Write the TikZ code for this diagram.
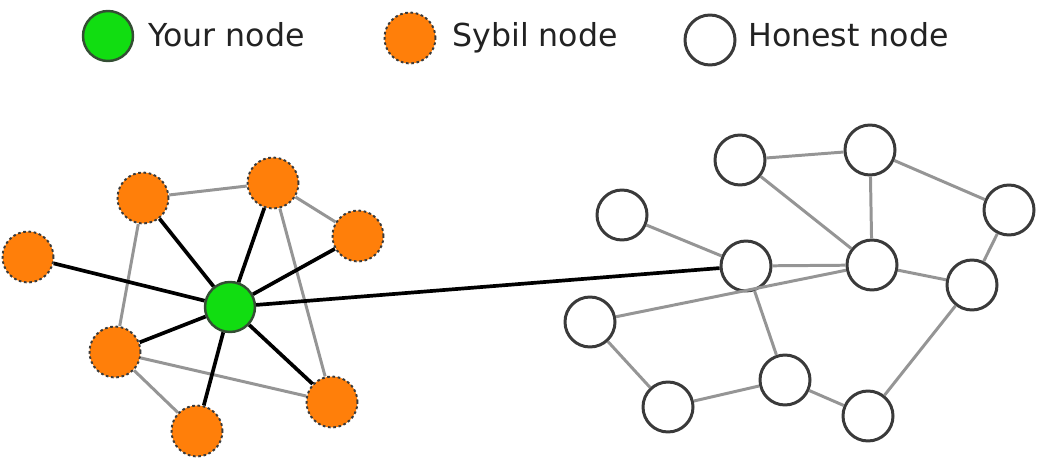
\documentclass[tikz,border=0pt]{standalone}
\usepackage{fontspec}
\setmainfont{DejaVu Sans}
\usepackage{xcolor}
\usepackage{tikz}
\usetikzlibrary{positioning}
\definecolor{greenyou}{HTML}{11DD11}
\definecolor{orangesybil}{HTML}{FF7F0A}
\definecolor{edgedark}{HTML}{3A3A3A}
\definecolor{graylink}{HTML}{959595}
\definecolor{textdark}{HTML}{222222}
\tikzset{
  yournode/.style={circle,fill=greenyou,draw=edgedark!90!green,line width=1.4pt,minimum size=1.0cm,inner sep=0pt},
  sybil/.style={circle,fill=orangesybil,draw=edgedark,line width=1.1pt,dash pattern=on 1.5pt off 1.5pt,minimum size=1.02cm,inner sep=0pt},
  honest/.style={circle,fill=white,draw=edgedark,line width=1.7pt,minimum size=1.0cm,inner sep=0pt},
  trust/.style={black,line width=2.1pt},
  link/.style={graylink,line width=1.7pt},
  legendtext/.style={anchor=base west,inner sep=0pt,text=textdark,font=\fontsize{18}{20}\selectfont}
}

\begin{document}
\begin{tikzpicture}[x=0.02cm,y=-0.02cm]
  \useasboundingbox (0,0) rectangle (1041,476);
  % legend
  \node[yournode] (lg) at (108,36) {};
  \node[legendtext] (lgt) at (148,47) {Your node};
  \node[sybil] (ls) at (410,38) {};
  \node[legendtext] (lst) at (452,47) {Sybil node};
  \node[honest] (lh) at (710,40) {};
  \node[legendtext] (lht) at (748,47) {Honest node};
  % sybil region
  \node[yournode] (me) at (230,307) {};
  \node[sybil] (s1) at (143,198) {};
  \node[sybil] (s2) at (273,183) {};
  \node[sybil] (s3) at (358,236) {};
  \node[sybil] (s4) at (28,257) {};
  \node[sybil] (s5) at (115,352) {};
  \node[sybil] (s6) at (197,431) {};
  \node[sybil] (s7) at (332,402) {};
  % honest region
  \node[honest] (h1) at (740,160) {};
  \node[honest] (h2) at (870,150) {};
  \node[honest] (h3) at (1009,210) {};
  \node[honest] (h4) at (622,215) {};
  \node[honest] (h5) at (746,266) {};
  \node[honest] (h6) at (872,265) {};
  \node[honest] (h7) at (972,285) {};
  \node[honest] (h8) at (590,322) {};
  \node[honest] (h9) at (785,380) {};
  \node[honest] (h10) at (668,407) {};
  \node[honest] (h11) at (868,416) {};
  % links among sybils
  \draw[link] (s1)--(s2) (s2)--(s3) (s1)--(s5) (s2)--(s7) (s5)--(s6) (s5)--(s7);
  % links among honest nodes
  \draw[link] (h1)--(h2) (h1)--(h6) (h2)--(h6) (h2)--(h3) (h3)--(h7)
    (h4)--(h5) (h5)--(h6) (h6)--(h7) (h8)--(h6) (h5)--(h9)
    (h8)--(h10) (h10)--(h9) (h9)--(h11) (h11)--(h7);
  % edges of your node
  \foreach \s in {s1,s2,s3,s4,s5,s6,s7}
    \draw[trust] (me)--(\s);
  \draw[trust] (me)--(h5);
\end{tikzpicture}
\end{document}
